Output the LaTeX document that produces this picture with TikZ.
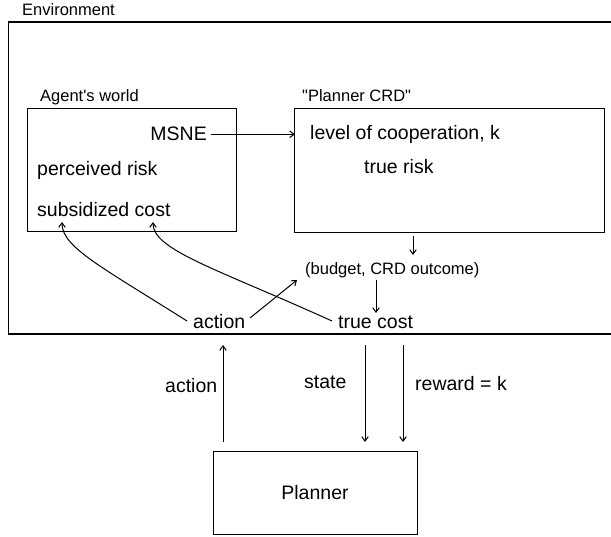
\documentclass[tikz,border=0pt]{standalone}
\usepackage{fontspec}
\setmainfont{Liberation Sans}
\usetikzlibrary{arrows.meta}
\begin{document}
\begin{tikzpicture}[x=1pt,y=-1pt,
  big/.style={font=\fontsize{19.5}{23}\selectfont, inner sep=0pt, anchor=base west},
  small/.style={font=\fontsize{16.5}{20}\selectfont, inner sep=0pt, anchor=base west},
  box/.style={draw, line width=1.3pt, inner sep=0pt, anchor=north west},
  conn/.style={line width=1pt, -{Straight Barb[length=4.5pt,width=6.5pt]}}]
\useasboundingbox (0,0) rectangle (611,537);
% environment frame (right side runs off the picture)
\draw[line width=1.3pt] (611,22) -- (8.5,22) -- (8.5,334) -- (611,334);
\node[small] (envlab) at (22,16) {Environment};
% agent's world
\node[box, minimum width=209pt, minimum height=123pt] (aw) at (26.7,108) {};
\node[small] (awlab) at (40,102) {Agent\textquotesingle s world};
\node[big, anchor=base east] (msne) at (207,141) {MSNE};
\node[big] (perc) at (37,176) {perceived risk};
\node[big] (subs) at (37,217) {subsidized cost};
% planner CRD
\node[box, minimum width=310pt, minimum height=124pt] (crd) at (294,108) {};
\node[small] (crdlab) at (302,102) {\textquotedbl Planner CRD\textquotedbl};
\node[big] (level) at (310,140) {level of cooperation, k};
\node[big] (trisk) at (364,174) {true risk};
% outcome and costs
\node[small] (budget) at (305,275) {(budget, CRD outcome)};
\node[big] (act) at (193,329) {action};
\node[big] (tcost) at (338,329) {true cost};
% planner
\node[box, minimum width=204pt, minimum height=83pt] (planner) at (213,451) {};
\node[big, anchor=base] (plab) at (315,500) {Planner};
\node[big] (actlab) at (165,393) {action};
\node[big] (statelab) at (304,389) {state};
\node[big] (rewlab) at (415,391) {reward = k};
% coordinates
\coordinate (msneEnd) at ([xshift=4pt]msne.east);
\coordinate (crdIn) at ([xshift=1pt]crd.west |- msne.east);
\coordinate (crdOut) at (413,236);
\coordinate (budIn) at (413,255);
\coordinate (budOut) at (376,280);
\coordinate (tcIn) at (376,313);
\coordinate (subsA) at (62,222);
\coordinate (subsB) at (153,222);
\coordinate (actA) at (187,321);
\coordinate (tcA) at (332,321);
\coordinate (actB) at (250,318);
\coordinate (budA) at (297,280);
\coordinate (pAct) at (223,442);
\coordinate (eAct) at (223,345);
\coordinate (eState) at (365,345);
\coordinate (pState) at (365,442);
\coordinate (eRew) at (403,345);
\coordinate (pRew) at (403,442);
% connectors
\draw[conn] (msneEnd) -- (crdIn);
\draw[conn] (crdOut) -- (budIn);
\draw[conn] (budOut) -- (tcIn);
\draw[conn] (actA) .. controls (100,266) and (62,247) .. (subsA);
\draw[conn] (tcA) .. controls (215,268) and (153,250) .. (subsB);
\draw[conn] (actB) -- (budA);
\draw[conn] (pAct) -- (eAct);
\draw[conn] (eState) -- (pState);
\draw[conn] (eRew) -- (pRew);
\end{tikzpicture}
\end{document}
